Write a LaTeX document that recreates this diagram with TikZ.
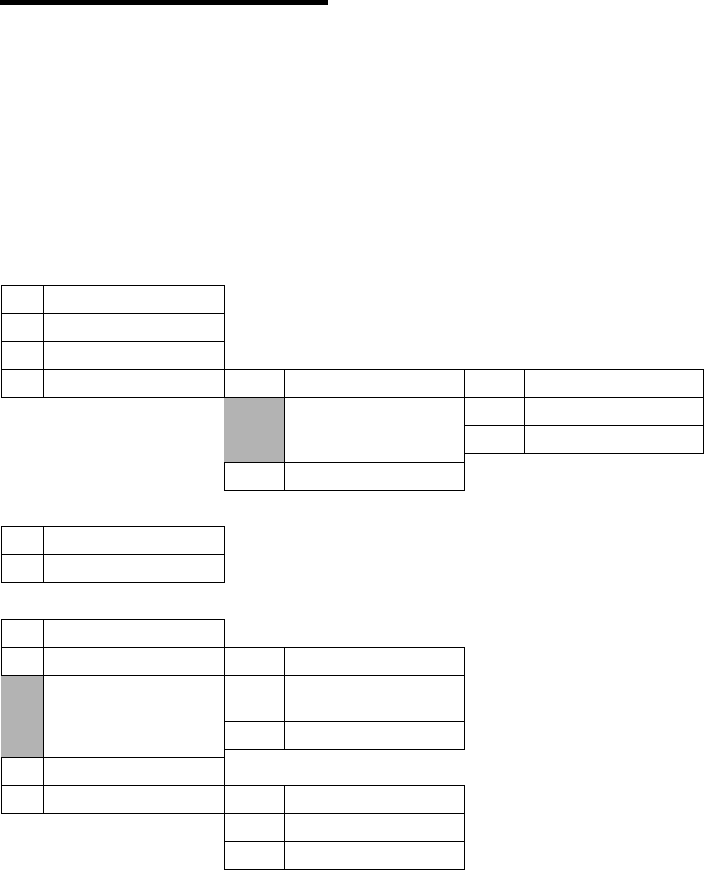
\documentclass[tikz,border=0pt]{standalone}
\definecolor{greycell}{RGB}{179,179,179}
\tikzset{
  cellbox/.style={draw=black, line width=1pt, fill=white, inner sep=0pt, outer sep=0pt, anchor=north west},
  greybox/.style={fill=greycell, draw=none, inner sep=0pt, outer sep=0pt, anchor=north west},
  barbox/.style={fill=black, draw=none, inner sep=0pt, outer sep=0pt, anchor=north west}
}
% name, x1, y1, x2, y2
\newcommand\mkcell[6][cellbox]{%
  \node[#1, minimum width={(#5-#3)*1pt}, minimum height={(#6-#4)*1pt}] (#2) at (#3,#4) {};}
\begin{document}
\begin{tikzpicture}[x=1pt,y=-1pt]
\useasboundingbox (0,0) rectangle (704,870);
\fill[white] (0,0) rectangle (704,870);
\mkcell[barbox]{bar}{0}{0}{328}{5}
% grey cells first so the borders lie over them
\mkcell[greybox]{b2l}{224}{397}{284}{462.5}
\mkcell[greybox]{e3l}{1}{675}{43}{757}
% table 1
\mkcell{a1l}{1}{285}{43}{313}
\mkcell{a1r}{43}{285}{224}{313}
\mkcell{a2l}{1}{313}{43}{341}
\mkcell{a2r}{43}{313}{224}{341}
\mkcell{a3l}{1}{341}{43}{369}
\mkcell{a3r}{43}{341}{224}{369}
\mkcell{a4l}{1}{369}{43}{397}
\mkcell{a4r}{43}{369}{224}{397}
\mkcell{b1l}{224}{369}{284}{397}
\mkcell{b1r}{284}{369}{464}{397}
\mkcell{c1l}{464}{369}{524}{397}
\mkcell{c1r}{524}{369}{703}{397}
\mkcell{b2r}{284}{397}{464}{462.5}
\mkcell{c2l}{464}{397}{524}{425}
\mkcell{c2r}{524}{397}{703}{425}
\mkcell{c3l}{464}{425}{524}{453}
\mkcell{c3r}{524}{425}{703}{453}
\mkcell{b3l}{224}{462.5}{284}{490}
\mkcell{b3r}{284}{462.5}{464}{490}
% table 2
\mkcell{d1l}{1}{526}{43}{554}
\mkcell{d1r}{43}{526}{224}{554}
\mkcell{d2l}{1}{554}{43}{582}
\mkcell{d2r}{43}{554}{224}{582}
% table 3
\mkcell{e1l}{1}{619}{43}{647}
\mkcell{e1r}{43}{619}{224}{647}
\mkcell{e2l}{1}{647}{43}{675}
\mkcell{e2r}{43}{647}{224}{675}
\mkcell{f1l}{224}{647}{284}{675}
\mkcell{f1r}{284}{647}{464}{675}
\mkcell{e3r}{43}{675}{224}{757}
\mkcell{f2l}{224}{675}{284}{721}
\mkcell{f2r}{284}{675}{464}{721}
\mkcell{f3l}{224}{721}{284}{749}
\mkcell{f3r}{284}{721}{464}{749}
\mkcell{e4l}{1}{757}{43}{785}
\mkcell{e4r}{43}{757}{224}{785}
\mkcell{e5l}{1}{785}{43}{813}
\mkcell{e5r}{43}{785}{224}{813}
\mkcell{g1l}{224}{785}{284}{813}
\mkcell{g1r}{284}{785}{464}{813}
\mkcell{g2l}{224}{813}{284}{841}
\mkcell{g2r}{284}{813}{464}{841}
\mkcell{g3l}{224}{841}{284}{869}
\mkcell{g3r}{284}{841}{464}{869}
\end{tikzpicture}
\end{document}
